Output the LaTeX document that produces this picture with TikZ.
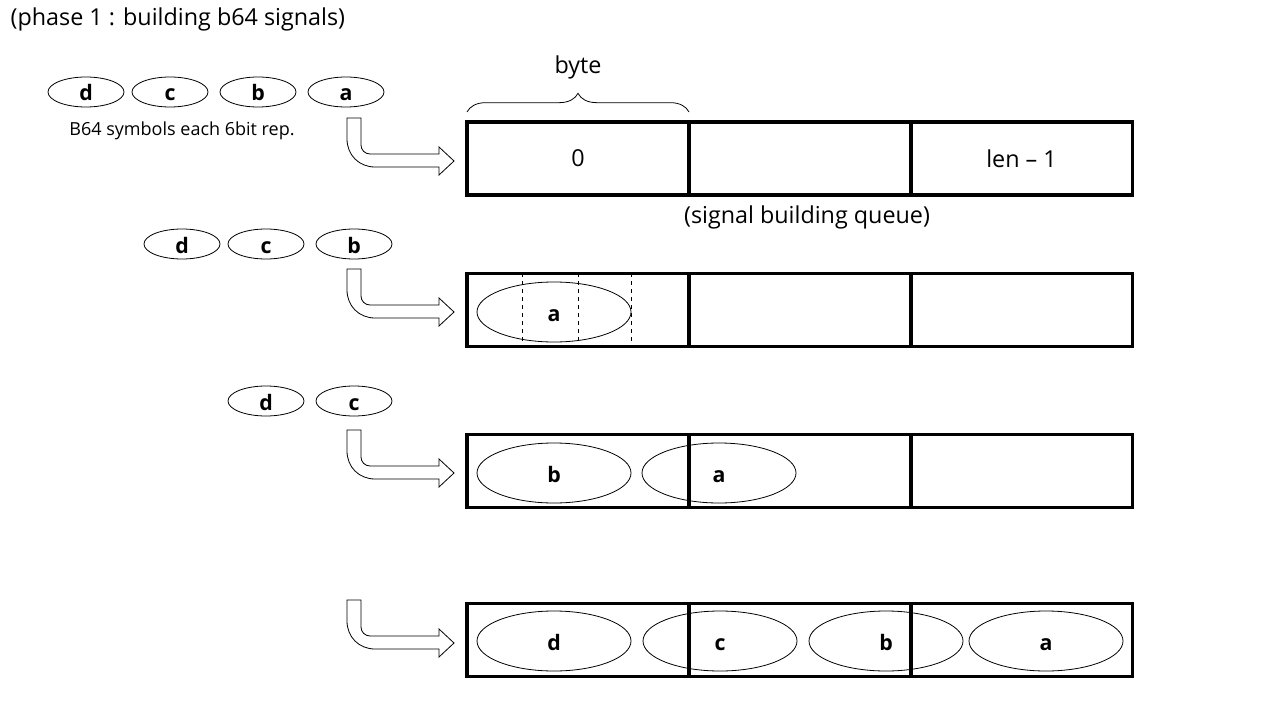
\documentclass[tikz,border=0pt]{standalone}
\usepackage{fontspec}
\setmainfont{Open Sans}
\usetikzlibrary{shapes.geometric,decorations.pathreplacing}

% hollow bent arrow, #1,#2 = top left corner of its stem
\newcommand{\bentarrow}[2]{%
  \begin{scope}[shift={(#1,#2)}]
    \draw[line width=0.6pt] (0,0) -- (14,0) -- (14,27)
      .. controls (14,32) and (18,36) .. (23,36) -- (92,36) -- (92,29)
      -- (107,43) -- (92,57) -- (92,49) -- (28,49)
      .. controls (12,49) and (0,37) .. (0,21) -- cycle;
  \end{scope}}

\begin{document}
\begin{tikzpicture}[x=0.75pt,y=-0.75pt,
    tok/.style={ellipse,draw,line width=0.6pt,minimum width=57pt,minimum height=22.5pt,inner sep=0pt,text height=13.5pt,text depth=0pt,font=\fontsize{16}{18}\selectfont\bfseries},
    sym/.style={ellipse,draw,line width=0.6pt,minimum width=115.5pt,minimum height=45pt,inner sep=0pt,text height=13.5pt,text depth=0pt,font=\fontsize{16}{18}\selectfont\bfseries},
    cell/.style={rectangle,draw,line width=2.4pt,minimum width=166.5pt,minimum height=54.75pt,inner sep=0pt,font=\fontsize{17.5}{20}\selectfont},
    lbl/.style={font=\fontsize{17.5}{20}\selectfont}]
  \useasboundingbox (0,0) rectangle (1280,720);

  \node[lbl,anchor=west] (title) at (6,19) {(phase 1 : building b64 signals)};

  % input symbols
  \node[tok] (s1d) at (86,92) {d};
  \node[tok] (s1c) at (170,92) {c};
  \node[tok] (s1b) at (258,92) {b};
  \node[tok] (s1a) at (346,92) {a};
  \node[font=\fontsize{13.5}{16}\selectfont] (note) at (182,131) {B64 symbols each 6bit rep.};

  \node[tok] (s2d) at (182,244) {d};
  \node[tok] (s2c) at (266,244) {c};
  \node[tok] (s2b) at (354,244) {b};

  \node[tok] (s3d) at (266,401) {d};
  \node[tok] (s3c) at (354,401) {c};

  % arrows
  \bentarrow{347}{118}
  \bentarrow{347}{269}
  \bentarrow{347}{430}
  \bentarrow{347}{600}

  % symbols inside the queue
  \node[sym] (q2a) at (554,312) {a};
  \node[sym] (q3b) at (554,473) {b};
  \node[sym] (q3a) at (719,473) {a};
  \node[sym] (q4d) at (554,641) {d};
  \node[sym] (q4c) at (720,641) {c};
  \node[sym] (q4b) at (886,641) {b};
  \node[sym] (q4a) at (1046,641) {a};

  % queue cells
  \node[cell] (r1c1) at (578,158.5) {0};
  \node[cell] (r1c2) at (800,158.5) {};
  \node[cell] (r1c3) at (1021.5,158.5) {len -- 1};
  \node[lbl] (queue) at (807,217) {(signal building queue)};

  \node[cell] (r2c1) at (578,310) {};
  \node[cell] (r2c2) at (800,310) {};
  \node[cell] (r2c3) at (1021.5,310) {};

  \node[cell] (r3c1) at (578,471) {};
  \node[cell] (r3c2) at (800,471) {};
  \node[cell] (r3c3) at (1021.5,471) {};

  \node[cell] (r4c1) at (578,640) {};
  \node[cell] (r4c2) at (800,640) {};
  \node[cell] (r4c3) at (1021.5,640) {};

  % bit borders
  \draw[dashed,line width=0.5pt] (522,273) -- (522,347);
  \draw[dashed,line width=0.5pt] (578,273) -- (578,347);
  \draw[dashed,line width=0.5pt] (631,273) -- (631,347);

  % byte brace
  \draw[decorate,decoration={brace,amplitude=14pt},line width=0.6pt] (467,112) -- (689,112);
  \node[lbl] (byte) at (578,67) {byte};
\end{tikzpicture}
\end{document}
